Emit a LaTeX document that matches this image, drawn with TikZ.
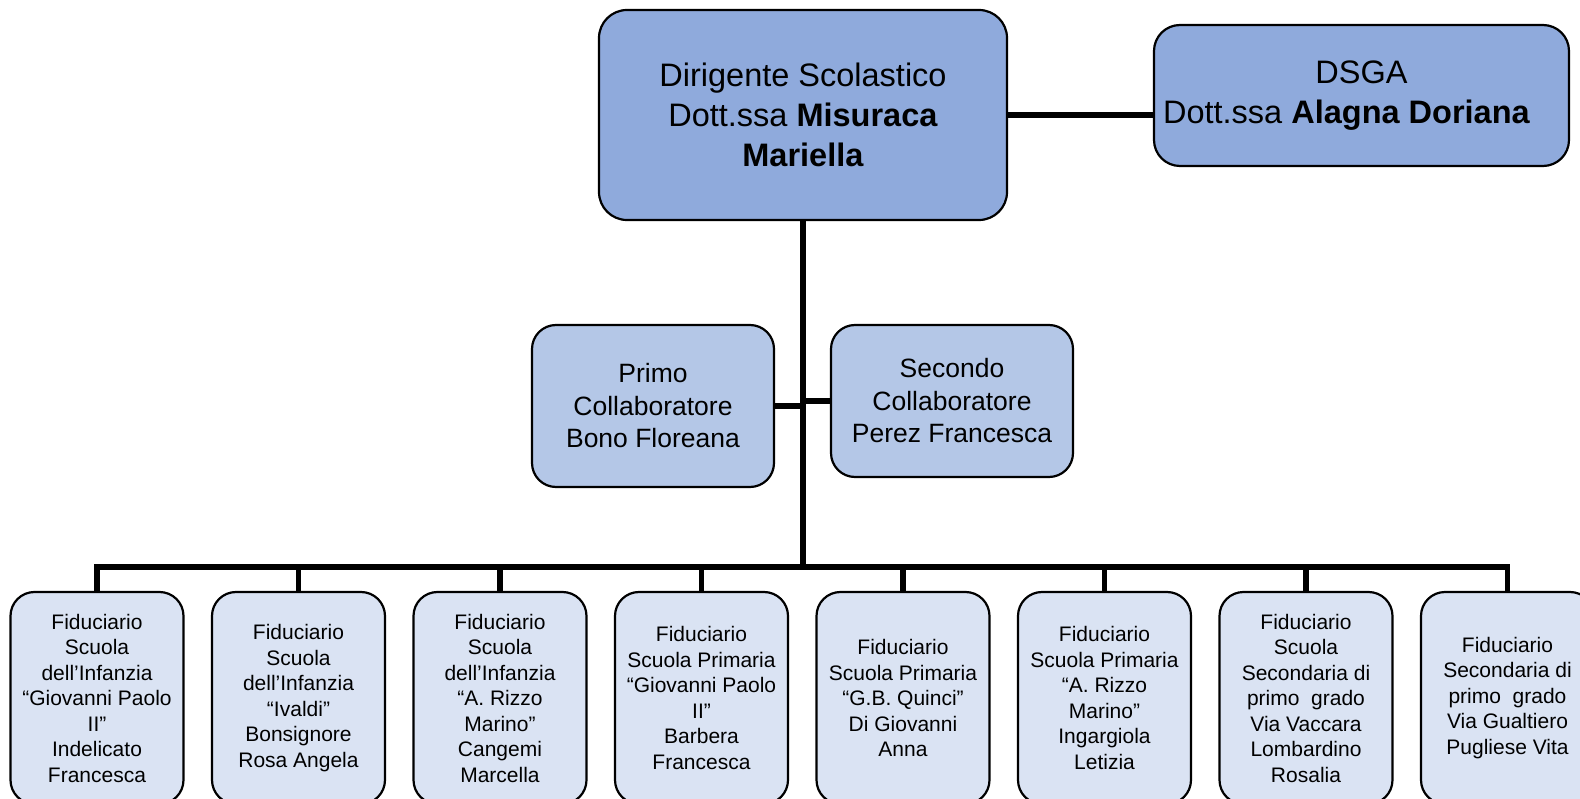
\documentclass[tikz,border=0pt]{standalone}
\usepackage{fontspec}
\setmainfont{Liberation Sans}
\definecolor{bluDS}{HTML}{8FAADC}
\definecolor{bluCol}{HTML}{B4C7E7}
\definecolor{bluFid}{HTML}{DAE3F3}
\begin{document}
\begin{tikzpicture}[x=1pt, y=-1pt, line join=miter,
	box/.style={draw, line width=2.2pt, align=center, inner sep=0pt},
	capo/.style={box, fill=bluDS, rounded corners=28pt, font=\fontsize{32.5}{40}\selectfont},
	collab/.style={box, fill=bluCol, rounded corners=24pt, minimum width=242pt, font=\fontsize{26.5}{32.5}\selectfont},
	fid/.style={box, fill=bluFid, rounded corners=24pt, minimum width=173pt, minimum height=212pt, font=\fontsize{21}{25.5}\selectfont},
	link/.style={line width=5.5pt}]
		\useasboundingbox (0,0) rectangle (1580,799);
		\clip (0,0) rectangle (1580,799);
		\node[capo, minimum width=408pt, minimum height=210pt] (ds) at (803,115) {Dirigente Scolastico\\Dott.ssa \textbf{Misuraca}\\\textbf{Mariella}};
		\node[capo, rounded corners=26pt, minimum width=415pt, minimum height=141pt] (dsga) at (1361.5,95.5) {DSGA\\Dott.ssa \textbf{Alagna Doriana}\hspace*{30pt}};
		\node[collab, minimum height=162pt] (primo) at (653,406) {Primo\\Collaboratore\\Bono Floreana};
		\node[collab, minimum height=152pt] (secondo) at (952,401) {Secondo\\Collaboratore\\Perez Francesca};
		\foreach \i/\testo in {
			1/{Fiduciario\\Scuola\\dell’Infanzia\\“Giovanni Paolo\\II”\\Indelicato\\Francesca},
			2/{Fiduciario\\Scuola\\dell’Infanzia\\“Ivaldi”\\Bonsignore\\Rosa Angela},
			3/{Fiduciario\\Scuola\\dell’Infanzia\\“A. Rizzo\\Marino”\\Cangemi\\Marcella},
			4/{Fiduciario\\Scuola Primaria\\“Giovanni Paolo\\II”\\Barbera\\Francesca},
			5/{Fiduciario\\Scuola Primaria\\“G.B. Quinci”\\Di Giovanni\\Anna},
			6/{Fiduciario\\Scuola Primaria\\“A. Rizzo\\Marino”\\Ingargiola\\Letizia},
			7/{Fiduciario\\Scuola\\Secondaria di\\primo~ grado\\Via Vaccara\\Lombardino\\Rosalia},
			8/{Fiduciario\\Secondaria di\\primo~ grado\\Via Gualtiero\\Pugliese Vita}}
			\node[fid] (f\i) at ({97+201.5*(\i-1)},698) {\testo};
		\coordinate (snodo) at (803,567);
		\draw[link] (ds.east) -- (ds.east -| dsga.west);
		\draw[link] (ds.south) -- (snodo);
		\draw[link] (primo.east) -- (primo.east -| ds.south);
		\draw[link] (secondo.west) -- (secondo.west -| ds.south);
		\draw[link] (f1.north) |- (snodo) -| (f8.north);
		\foreach \i in {2,...,7}\draw[link] (f\i.north) -- (f\i.north |- snodo);
	\end{tikzpicture}
\end{document}
